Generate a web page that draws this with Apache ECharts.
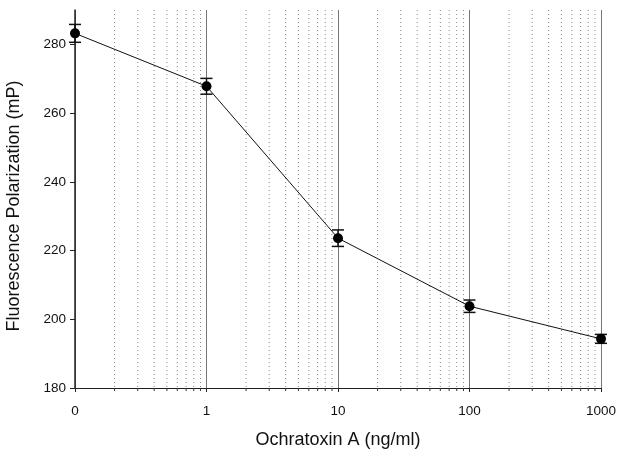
<!DOCTYPE html>
<html>
<head>
<meta charset="utf-8">
<script src="https://cdn.jsdelivr.net/npm/echarts@6/dist/echarts.min.js"></script>
<style>
  html, body { margin: 0; padding: 0; background: #fff; }
  #chart { width: 617px; height: 453px; }
</style>
</head>
<body>
<div id="chart"></div>
<script>
  // "0" is plotted at 0.1 on the log axis
  var conc = [0.1, 1, 10, 100, 1000]
  var fp = [283.2, 267.8, 223.6, 203.8, 194.3]
  var fpErr = [2.6, 2.3, 2.4, 1.8, 1.3]
  var decades = [0.1, 1, 10, 100]
  var minorSteps = [2, 3, 4, 5, 6, 7, 8, 9]

  var minorPos = []
  decades.forEach(function (d) {
    minorSteps.forEach(function (m) { minorPos.push([+(d * m).toPrecision(3)]) })
  })

  var errData = conc.map(function (x, i) { return [x, fp[i] - fpErr[i], fp[i] + fpErr[i]] })
  var font = 'Liberation Sans, Arial, sans-serif'

  var chart = echarts.init(document.getElementById('chart'))
  chart.setOption({
    animation: false,
    grid: { left: 75, right: 16, top: 10, bottom: 65, containLabel: false, outerBoundsMode: 'none' },
    xAxis: {
      type: 'log',
      logBase: 10,
      min: 0.1,
      max: 1000,
      name: 'Ochratoxin A (ng/ml)',
      nameLocation: 'middle',
      nameGap: 43,
      nameTextStyle: { fontFamily: font, fontSize: 18, color: '#111' },
      axisLine: { lineStyle: { color: '#222', width: 1 } },
      axisTick: { show: true, length: 4, lineStyle: { color: '#222' } },
      axisLabel: {
        fontFamily: font, fontSize: 13.5, color: '#111', margin: 16,
        formatter: function (v) { return v < 0.5 ? '0' : String(Math.round(v)) }
      },
      splitLine: { show: true, lineStyle: { color: '#777', width: 1 } }
    },
    yAxis: {
      type: 'value',
      min: 180,
      max: 290,
      interval: 20,
      name: 'Fluorescence Polarization (mP)',
      nameLocation: 'middle',
      nameGap: 52,
      nameTextStyle: { fontFamily: font, fontSize: 18, color: '#111', padding: [0, 0, 0, -14] },
      axisLine: { show: true, lineStyle: { color: '#222', width: 1.5 } },
      axisTick: { show: true, length: 5, lineStyle: { color: '#222' } },
      axisLabel: { fontFamily: font, fontSize: 13.5, color: '#111', showMaxLabel: false, margin: 9 },
      splitLine: { show: false }
    },
    series: [
      {
        name: 'minor',
        type: 'custom',
        silent: true,
        z: 1,
        data: minorPos,
        renderItem: function (params, api) {
          var top = api.coord([api.value(0), 290])
          var bot = api.coord([api.value(0), 180])
          return {
            type: 'group',
            children: [
              {
                type: 'line',
                shape: { x1: top[0], y1: top[1], x2: bot[0], y2: bot[1] },
                style: { stroke: '#888', lineWidth: 1, lineDash: [1, 3] }
              },
              {
                type: 'line',
                shape: { x1: bot[0], y1: bot[1], x2: bot[0], y2: bot[1] + 3 },
                style: { stroke: '#333', lineWidth: 1 }
              }
            ]
          }
        }
      },
      {
        name: 'err',
        type: 'custom',
        z: 3,
        data: errData,
        renderItem: function (params, api) {
          var lo = api.coord([api.value(0), api.value(1)])
          var hi = api.coord([api.value(0), api.value(2)])
          var w = 6
          var st = { stroke: '#111', lineWidth: 1.5 }
          return {
            type: 'group',
            children: [
              { type: 'line', shape: { x1: lo[0], y1: lo[1], x2: hi[0], y2: hi[1] }, style: st },
              { type: 'line', shape: { x1: lo[0] - w, y1: lo[1], x2: lo[0] + w, y2: lo[1] }, style: st },
              { type: 'line', shape: { x1: hi[0] - w, y1: hi[1], x2: hi[0] + w, y2: hi[1] }, style: st }
            ]
          }
        }
      },
      {
        name: 'FP',
        type: 'line',
        z: 4,
        data: conc.map(function (x, i) { return [x, fp[i]] }),
        symbol: 'circle',
        symbolSize: 10,
        itemStyle: { color: '#000' },
        lineStyle: { color: '#111', width: 1 }
      }
    ]
  })
</script>
</body>
</html>
